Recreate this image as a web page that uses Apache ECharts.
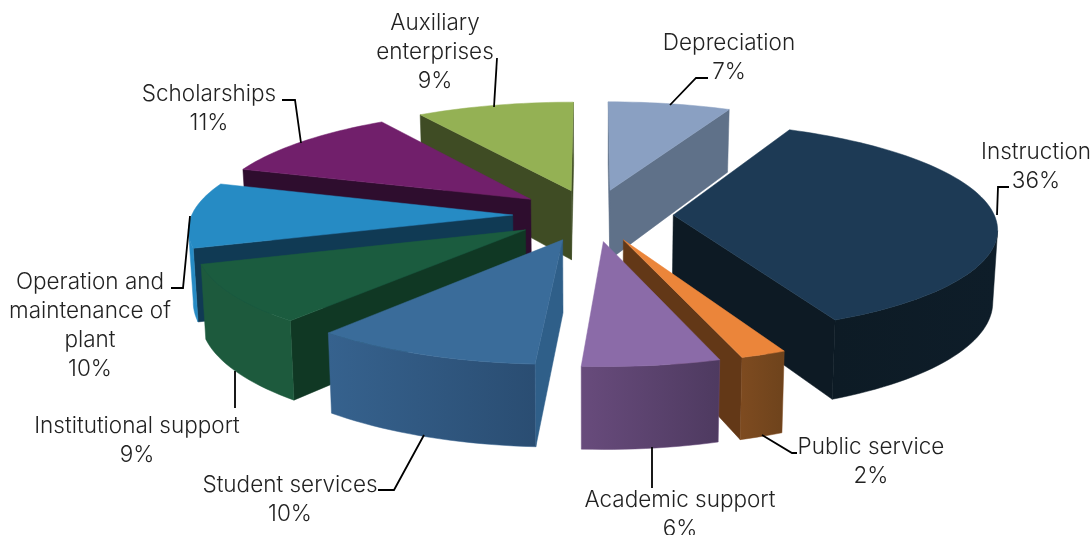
<!DOCTYPE html>
<html>
<head>
<meta charset="utf-8">
<style>html,body{margin:0;padding:0;background:#fff}#c{width:1091px;height:535px}</style>
<script src="https://cdn.jsdelivr.net/npm/echarts@6/dist/echarts.min.js"></script>
</head>
<body>
<div id="c"></div>
<script>
// Data
const categories = ['Depreciation','Instruction','Public service','Academic support','Student services','Institutional support','Operation and maintenance of plant','Scholarships','Auxiliary enterprises'];
const values = [7,36,2,6,10,9,10,11,9];
const percentLabels = ['7%','36%','2%','6%','10%','9%','10%','11%','9%'];

// Styles: [top, cut face, wall left, wall right]
const palette = [
  ['#8AA0C2','#5F7189','#5F7189','#5F7189'],
  ['#1D3A55','#0D1A24','#0D1B25','#0E1D29'],
  ['#EB853A','#633817','#7E4B20','#6E431C'],
  ['#8B6BA8','#5C4670','#684B7C','#4E3A60'],
  ['#3A6C9A','#2F5F89','#36628E','#2A4D72'],
  ['#1B5C3F','#103824','#1D5A3D','#1D5A3D'],
  ['#268BC4','#103A54','#268BC4','#268BC4'],
  ['#711F6B','#2E0D2E','#2E0D2E','#2E0D2E'],
  ['#94B154','#3F4C24','#3F4C24','#3F4C24']
];
// Label layout: text centre and line break, leader line
const labelLayout = [
  {x:729,y:58,text:'Depreciation',line:[[670,105],[696,78],[708,78]]},
  {x:1036,y:167,text:'Instruction',line:[[997,215],[998,187],[1009,187]]},
  {x:871,y:462,text:'Public service',line:[[762,435],[792,453],[797,453]]},
  {x:680,y:515,text:'Academic support',line:[[652,447],[652,488]]},
  {x:290,y:500,text:'Student services',line:[[424,435],[394,490],[378,490]]},
  {x:137,y:441,text:'Institutional support',line:[[235,371],[235,408]]},
  {x:90,y:326,text:'Operation and\nmaintenance of\nplant',line:[[190,216],[183,288],[171,288]]},
  {x:209,y:109,text:'Scholarships',line:[[301,143],[295,100],[282,100]]},
  {x:435,y:52,text:'Auxiliary\nenterprises',line:[[494,107],[497,58]]}
];

// Projection of the tilted, exploded pie
const CX=593, CY=215, RX=321, RY=104, DEPTH=71, PERSP=0.115, EXPLODE=0.25, LOW_SHRINK=0.988;
const total = values.reduce((a,b)=>a+b,0);
function project(wx,wy,low){
  const s=1/(1-PERSP*wy);
  return [CX+s*RX*wx*(low?LOW_SHRINK:1), CY+s*(RY*wy+(low?DEPTH:0))];
}
let acc=0;
const slices = values.map((v,i)=>{const a0=acc/total*2*Math.PI; acc+=v; const a1=acc/total*2*Math.PI; return {i,a0,a1,mid:(a0+a1)/2};});
const order = slices.slice().sort((p,q)=>Math.cos(q.mid)-Math.cos(p.mid));

function renderSlice(params,api){
  const sl=slices[api.value(0)], col=palette[sl.i];
  const ex=EXPLODE*Math.sin(sl.mid), ey=-EXPLODE*Math.cos(sl.mid);
  const perim=[[ex,ey]];
  const n=Math.max(4,Math.ceil((sl.a1-sl.a0)/0.03));
  for(let k=0;k<=n;k++){
    const a=sl.a0+(sl.a1-sl.a0)*k/n;
    perim.push([ex+Math.sin(a),ey-Math.cos(a)]);
  }
  const top=perim.map(p=>project(p[0],p[1],false));
  const low=perim.map(p=>project(p[0],p[1],true));
  const L=top.length, children=[];
  const face=(pts,fill)=>children.push({type:'polygon',shape:{points:pts},style:{fill,stroke:typeof fill==='string'?fill:col[2],lineWidth:0.5}});
  if(top[1][0]<top[0][0]) face([top[0],top[1],low[1],low[0]],col[1]);
  if(top[0][0]<top[L-1][0]) face([top[L-1],top[0],low[0],low[L-1]],col[1]);
  let up=[],dn=[];
  const flush=()=>{ if(up.length>1){
      face(up.concat(dn.slice().reverse()),new echarts.graphic.LinearGradient(0,0,1,0,[{offset:0,color:col[2]},{offset:1,color:col[3]}]));
    } up=[];dn=[]; };
  for(let k=1;k<L-1;k++){
    if(top[k+1][0]<top[k][0]){
      if(!up.length){up.push(top[k]);dn.push(low[k]);}
      up.push(top[k+1]);dn.push(low[k+1]);
    } else flush();
  }
  flush();
  children.push({type:'polygon',shape:{points:top},style:{fill:col[0],stroke:col[0],lineWidth:0.5}});
  return {type:'group',children};
}
function renderLabel(params,api){
  const i=api.value(0), l=labelLayout[i];
  return {type:'group',children:[
    {type:'polyline',shape:{points:l.line},style:{fill:'none',stroke:'#000',lineWidth:1.8}},
    {type:'text',style:{x:l.x,y:l.y,text:l.text+'\n'+percentLabels[i],
      textAlign:'center',textVerticalAlign:'middle',font:'300 22.5px Inter, Roboto, "Liberation Sans", sans-serif',lineHeight:29,fill:'#222'}}
  ]};
}
const chart=echarts.init(document.getElementById('c'),null,{renderer:'canvas'});
chart.setOption({
  animation:false,
  backgroundColor:'#fff',
  series:[
    {type:'custom',coordinateSystem:'none',silent:true,renderItem:renderSlice,data:order.map(s=>[s.i,values[s.i]]),encode:{value:1}},
    {type:'custom',coordinateSystem:'none',silent:true,renderItem:renderLabel,data:categories.map((c,i)=>[i,values[i]]),z:5}
  ]
});
</script>
</body>
</html>
